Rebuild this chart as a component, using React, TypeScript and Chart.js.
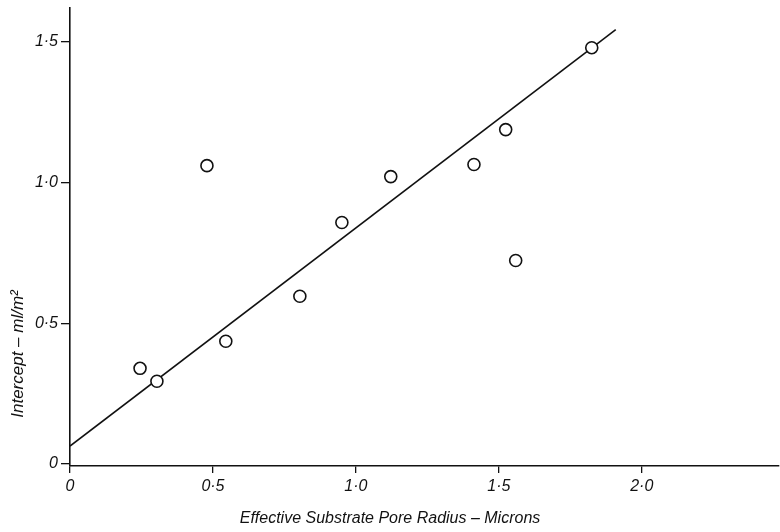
import React, { useEffect, useRef } from 'react';
import { Chart, registerables } from 'chart.js';

Chart.register(...registerables);

const X_VALUES = [0.245, 0.304, 0.479, 0.545, 0.804, 0.951, 1.122, 1.413, 1.524, 1.559, 1.825];
const Y_VALUES = [0.34, 0.294, 1.06, 0.436, 0.596, 0.858, 1.021, 1.064, 1.188, 0.723, 1.479];
const FIT_X = [0, 1.909];
const FIT_Y = [0.064, 1.543];
const X_TICKS = [0, 0.5, 1, 1.5, 2];
const X_TICK_LABELS = ['0', '0·5', '1·0', '1·5', '2·0'];
const Y_TICKS = [0, 0.5, 1, 1.5];
const Y_TICK_LABELS = ['0', '0·5', '1·0', '1·5'];
const X_TITLE = 'Effective Substrate Pore Radius – Microns';
const Y_TITLE = 'Intercept – ml/m²';

const FONT = '"Liberation Sans", Arial, sans-serif';

const titlesPlugin = {
  id: 'manualTitles',
  afterDraw(chart: any) {
    const ctx = chart.ctx;
    ctx.save();
    ctx.fillStyle = '#111';
    ctx.font = `italic 16px ${FONT}`;
    ctx.textAlign = 'center';
    ctx.textBaseline = 'middle';
    ctx.fillText(X_TITLE, 390, 519);
    ctx.font = `italic 17px ${FONT}`;
    ctx.translate(18, 354);
    ctx.rotate(-Math.PI / 2);
    ctx.fillText(Y_TITLE, 0, 0);
    ctx.restore();
  },
};

export default function App() {
  const ref = useRef<HTMLCanvasElement | null>(null);

  useEffect(() => {
    if (!ref.current) return;
    const points = X_VALUES.map((x, i) => ({ x, y: Y_VALUES[i] }));
    const fit = FIT_X.map((x, i) => ({ x, y: FIT_Y[i] }));
    const chart = new Chart(ref.current, {
      type: 'scatter',
      data: {
        datasets: [
          {
            label: 'fit',
            data: fit,
            showLine: true,
            borderColor: '#111',
            borderWidth: 1.6,
            pointRadius: 0,
            order: 2,
          },
          {
            label: 'data',
            data: points,
            showLine: false,
            pointRadius: 6,
            pointBorderWidth: 1.6,
            pointBorderColor: '#111',
            pointBackgroundColor: '#fff',
            order: 1,
          },
        ],
      },
      options: {
        animation: false,
        responsive: false,
        maintainAspectRatio: false,
        layout: { autoPadding: false, padding: { top: 8, right: 1, left: 0, bottom: 0 } },
        plugins: { legend: { display: false }, tooltip: { enabled: false } },
        scales: {
          x: {
            type: 'linear',
            min: 0,
            max: 2.48,
            afterFit: (s: any) => {
              s.height = 66;
              s.paddingLeft = 0;
              s.paddingRight = 0;
            },
            afterBuildTicks: (s: any) => {
              s.ticks = X_TICKS.map((v) => ({ value: v }));
            },
            ticks: {
              color: '#111',
              font: { family: FONT, size: 16, style: 'italic' },
              padding: 4,
              maxRotation: 0,
              autoSkip: false,
              callback: (v: any) => {
                const i = X_TICKS.indexOf(Number(v));
                return i >= 0 ? X_TICK_LABELS[i] : '';
              },
            },
            grid: { drawOnChartArea: false, drawTicks: true, tickLength: 7, color: '#111', lineWidth: 1.3 },
            border: { display: true, color: '#111', width: 1.6 },
          },
          y: {
            type: 'linear',
            min: -0.007,
            max: 1.62,
            afterFit: (s: any) => {
              s.width = 70;
              s.paddingTop = 0;
              s.paddingBottom = 0;
            },
            afterBuildTicks: (s: any) => {
              s.ticks = Y_TICKS.map((v) => ({ value: v }));
            },
            ticks: {
              color: '#111',
              font: { family: FONT, size: 16, style: 'italic' },
              padding: 3,
              autoSkip: false,
              callback: (v: any) => {
                const i = Y_TICKS.indexOf(Number(v));
                return i >= 0 ? Y_TICK_LABELS[i] : '';
              },
            },
            grid: { drawOnChartArea: false, drawTicks: true, tickLength: 9, color: '#111', lineWidth: 1.3 },
            border: { display: true, color: '#111', width: 1.6 },
          },
        },
      },
      plugins: [titlesPlugin],
    });
    return () => chart.destroy();
  }, []);

  return (
    <div style={{ position: 'fixed', left: 0, top: 0, width: 780, height: 532, background: '#fff' }}>
      <canvas ref={ref} width={780} height={532} style={{ width: 780, height: 532, display: 'block' }} />
    </div>
  );
}
